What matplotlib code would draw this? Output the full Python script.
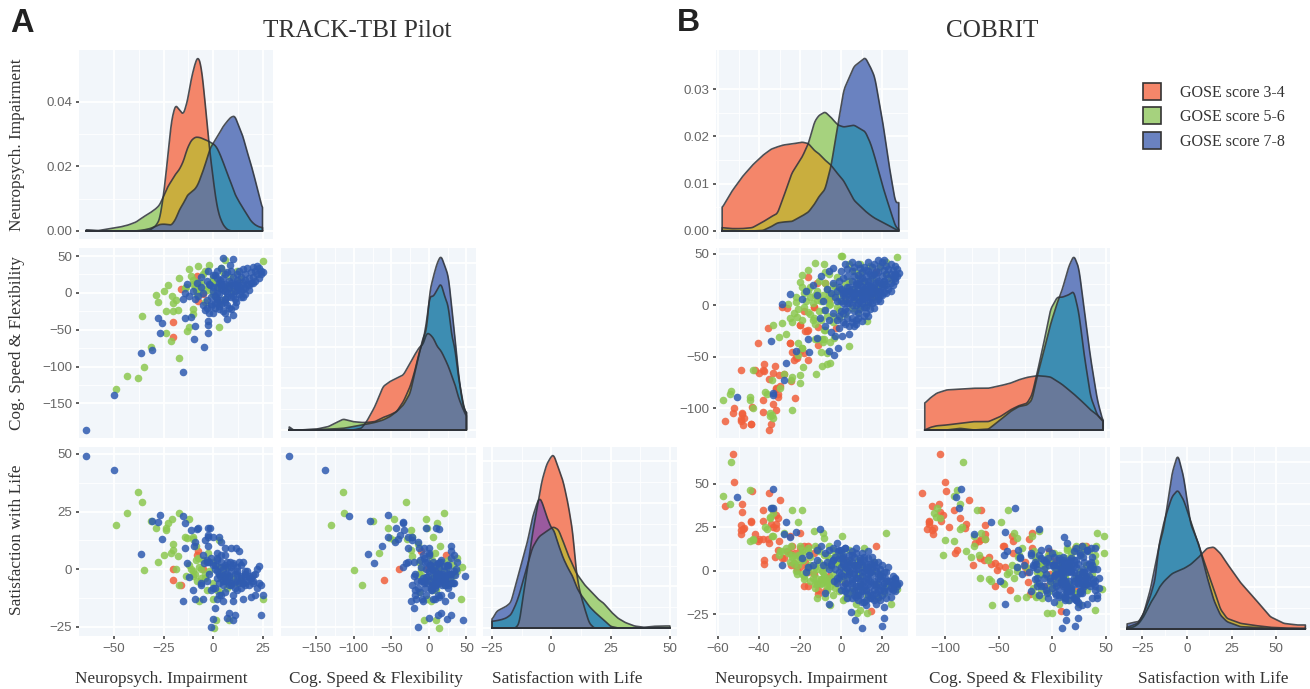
import numpy as np
import matplotlib
matplotlib.use('Agg')
import matplotlib.pyplot as plt

# ---- kolory i nazwy
GROUPS = ['GOSE score 3-4', 'GOSE score 5-6', 'GOSE score 7-8']
DOTS = ['#F0603C', '#8CC850', '#2F5BB0']
FILL_O, FILL_G, FILL_B = '#F4866A', '#A6D27E', '#6A82C0'
FILL_OG, FILL_OB, FILL_GB, FILL_ALL = '#C9AE3E', '#9A5A9E', '#3D8DB2', '#68799A'
BG = '#F2F6FA'
LABELS = ['Neuropsych. Impairment', 'Cog. Speed & Flexibility', 'Satisfaction with Life']

# ---- TRACK-TBI Pilot, punkty (neuropsych, cog, satisfaction)
a_orange = [(-20, -40, 0), (-20, -60, -4.5), (-16, 5, -7), (-7.5, -11, 8), (-5, -2, 0), (-8, 23, 6)]
a_green = [(-43.6, -113, 24.5), (-38, -115, 33.5), (-49, -130, 19), (-35.7, -31, 29), (-35, -100, -0.5),
           (-17, -89, -7), (-31.5, -74, 21), (-29, -3, 18), (-28, -13, 3.3), (-25, 2, 6), (-22.5, 11, 20),
           (-17, 20, 24.5), (-20.5, -4, 21.6), (-20, -14, 11), (-23.5, -24, 17), (-20, -24, 8.4),
           (-17.7, -23, 5.5), (-23.5, -55, 18), (-21, -66, 7), (-12, -47, 21.6), (-13, -52, 13.4),
           (-10, -22, 14), (-10, -29, 13), (3, -46, 12.7), (-12, 32, 2), (-7.5, 37, 5), (-2, 38, -1),
           (6, 44, 1), (25, 43, -13), (-11, 23, 0), (-5, 26, 4), (-10, 12, -1), (-13.5, 8, -3),
           (0, 17, 3), (5, 28, -5), (8.4, 21, -7), (13.5, 19, -4.6), (7, 8, -8), (1.7, -6, -22),
           (3.4, -13, -10), (-4, -13, -2), (-7, 3, -14), (-2.5, 8, 7), (0.3, 14, -25.5), (8, 10, -22),
           (-8.4, 15, 10), (-8.4, 4, 4), (-10, 18, -3), (-7, 12, 1), (-4, 30, -4), (0, 22, -6),
           (4, 34, -2), (-6, 6, -4), (12, 30, -6), (-14, 6, 14), (-18.5, -10, 0), (2, 10, -9), (6, -9, -3),
           (-9, 8, -2), (-8, -3, -5), (-6, 14, 0), (-3, 4, -9), (0, -2, -13), (3, 6, 1), (10, 2, -4)]
a_blue = [(-64, -186, 49), (-50, -139, 43), (-15, -107, 23), (-36.5, -81, 6.5), (-31, -78, 21),
          (-4.4, -73, 2.5), (-27, -55, 23.5), (-9.5, -62, 10), (-2.5, -55, 14), (-28, -34, 20.5),
          (-26, -41, 13), (-11, -33, 17), (-14, -34, 20), (-9, -45, 12), (-2.5, -38, 15), (-2.5, -44, 18),
          (-14, 0, 9), (-15, -8, -14), (-13, 12, 2.5), (-12, -4, -3.5), (-10, 3, -9), (-9, -9, -13),
          (-8, 14, 17.5), (-7.5, -4, 18), (-6, 22, -7), (-5, -17, -13), (-4, -23, 12.5), (-2.5, 30, 10),
          (-2, -28, 3), (-1.5, 10, 18), (-1, -15, -25), (0, 24, -21.5), (0, -28, 14), (1, -20, -17),
          (2, 8, -13), (2, 30, 5), (3, -22, 14), (3.5, 18, -3), (4, 34, 6), (4, -15, 12), (5, 48, -3),
          (5, 10, -7), (6, -28, 9), (6, 25, 2), (7, -35, 1), (7, 0, -21), (8, 16, -19), (8, -20, -3),
          (8.5, 38, 3), (9, 30, -6), (9, -6, 9), (10, -30, 2.5), (10, 46, -22), (10, 22, -14), (11, 12, -20),
          (11, 3, -8), (11.5, -13, 9), (12, 26, 1), (12, 18, -2), (13, 8, -6), (13, 30, 8), (14, -5, -8),
          (14, 22, -4), (15, 15, 3), (15, 5, -13), (15, 32, -6), (16, -1, -3), (16, 25, -2), (17, 12, -5),
          (17, 34, -1), (18, 20, -3), (18, 4, -7), (19, 28, -4), (19, 14, -12), (20, 35, -2.5), (20, 22, -5),
          (21, 16, -11), (21, 30, -2), (22, 36, 0), (22, 25, -8), (23, 34, -6), (23, 20, 1.5), (24, 30, -20),
          (24, 25, -7), (25, 29, -11), (3, 14, -2), (5, 20, -5), (7, 28, -2), (-3, 16, 4), (1, 24, 2),
          (4, 6, 3), (-6, 8, -6), (9, 14, 1), (12, 8, -1), (14, 2, 2), (16, 18, -7), (6, 2, -5), (2, 20, -1),
          (0, 2, 2), (1, -4, 0), (2, -8, -4), (3, -2, -6), (4, -10, 1), (5, 4, 0), (6, 12, -2), (7, -5, 3),
          (8, 6, -4), (9, 0, -1), (10, 10, 2), (11, -8, -5), (12, 4, -9), (13, -2, 3), (14, 10, -3), (15, -6, -6),
          (-1, -6, 5), (-3, -10, -5), (-5, 0, 6), (0, 8, -8), (2, 0, 7), (4, 12, -11), (6, -12, -10), (8, 8, -7),
          (10, -4, -11), (12, 14, -5), (16, 6, -1), (18, 10, -4), (20, 14, -6), (-2, 12, -2),
          (1, -14, -8), (3, -18, -11), (5, -24, -14), (7, -16, -5), (9, -22, -7), (2, -12, 4), (-1, -18, -9),
          (-3, -20, 3), (11, -18, -2), (6, -8, 6)]

# ---- COBRIT, punkty
b_orange = [(-52.8, -104.5, 66.7), (-52, -100, 50.8), (-35.4, -121, 44.6), (-43.4, -98.7, 45.6), (-48.4, -106, 38.5),
            (-56.6, -112.5, 37.3), (-48.4, -105, 33.8), (-38, -92, 35), (-30, -78, 40.4), (-33, -66, 35),
            (-31, -86, 30), (-44, -115, 28.5), (-38, -104, 28.5), (-47.7, -116.5, 24), (-47.5, -110, 24.4),
            (-49, -111, 21), (-49, -112, 23.5), (-32, -80, 27), (-31.6, -81, 24.4), (-40, -66, 18),
            (-38, -63, 18), (-35.4, -72, 15.8), (-20, -19, 21.5), (-25, -37, 19.6), (-24, -45, 14),
            (-18, -46, 14), (-28, -67, 7), (-23, -53, 4.6), (-21.5, -51, 0.4), (-16.7, -25, 2.3), (-16, -23.6, -0.6),
            (-16, -53, -9), (-11.5, -39, -11), (-11.5, -21, -13.5), (-11.8, 21.7, 13), (-13.4, -1.6, 10),
            (-2.4, -22.6, -6.3), (2, 8, -7.3), (14.4, 8, -23), (17, 32, 14), (-32.5, -59, 8), (-37.7, -57, 4),
            (-37.7, -64, 6), (-24.4, -74, 3), (-31, -89, 12), (-22.3, -90.6, 10), (-40.6, -36.6, 17),
            (-35.6, -21.7, 18), (-24.8, -36.6, 10), (-20, -19, 13), (-17.5, -25, 5), (-16, 27.5, 14),
            (-26.4, -3, 11), (-29, -2, 7), (-13.4, -1.6, -2), (2, 5, 5.8), (-48.7, -63, 26), (-42, -62.5, 21),
            (-30.4, -68, 17), (-33, -96, 25), (-32, -102, 32), (-34, -115, 27), (-44, -115, 28), (-22, -50, 2.7),
            (-20, -44, 2), (-12, 9, -7.7), (-8, 22, -12), (-6, 5, -3), (-18, -6, -9)]
b_green = [(-53.6, -83.4, 62.5), (-57.4, -91.6, 42.7), (-44.5, -89, 46.5), (-33.6, -107, 36), (-24, -70, 35),
           (-19, -41.6, 34.6), (-34.5, -105, 30), (-43, -100, 17.7), (-37, -84, 25), (-21, -48, 27.7),
           (-33.6, -73, 20), (-28, -66.5, 21.5), (-13.4, -12, 23), (-9, -36, 21.5), (-8.5, -33, 18.7),
           (0.3, 48, 20), (-30, -80, 11), (-12, -33, -16), (-8, -24, -15), (-5.3, -56, -20), (7.6, -4.7, -24.6),
           (12.5, 0, -24.6), (9, 40, -22.7), (-54, -85.8, 38), (-44.5, -91.6, 17), (-43, -63, 18), (-36, -86, 24),
           (-34.5, -108, 31), (-33, -110, 33), (-24, -102, 9), (-24.4, -73, 14), (-20, -76, 8), (-20, -68, 9),
           (-18.6, -60, 6), (-12.3, -67, -4), (-9.4, -59, -5), (-7, -57, -6), (-33, -19, 20), (-29, -17, 11),
           (-30.4, -31, 9), (-27, -28, 13), (-21, -37, 3), (-19, -42, -2), (-10, -45, -8), (-7, -46, -7),
           (3.6, -40, -1), (-12.6, -33, 2), (-9.4, -33, 0), (-5.3, -36, -4), (-3.7, -32, 8), (-8.6, -24, 2),
           (-26, 1.6, 10), (-22, 8, 6), (-19, 29, 12), (-12.6, 41, 14), (-8.6, 40, 9), (0, 48, 10), (-20, 22.7, 14),
           (-16, 34.6, 11), (-8, 32, 3), (3.6, 40, 5), (9, 31, -3), (-21.5, -11, -2), (-18, -1.6, -5), (-15, 8, -6),
           (-12, 5, 1), (-8.6, -5, -3), (-5.3, 1.6, -9), (-12, 14, -7), (-8, 22, -4), (-3, 18, -10), (9, -1.6, -8),
           (12.5, -15.5, -15), (7.6, 21, -14), (17, 14.6, -8), (20.6, 21, -13), (-25, -12, 5), (-22, 3, 0),
           (-18, 12, -3), (-16, -7, 2), (-14, -14, -1), (-10, 4, -5), (-6, 12, 7), (-4, -10, -2), (-1, 5, 3),
           (2, 22, -3), (4, 14, 12), (6, 33, -11), (11, 24, 13), (14, 38, 2), (19, 37, -2), (24, 25, -19),
           (22, 42, 21.5), (27, 47, -10.6), (-2, 27, 9), (1, 15, -17), (-6, 30, 14), (-15, 18, 8), (-1, -5, -12),
           (7, 6, -19), (16, 8, 5), (10, 13, 2),
           (-24, -16, 8), (-23, -8, 4), (-21, -4, 9), (-19, -14, 6), (-17, 4, -1), (-15, -9, 3), (-14, 2, -4),
           (-13, 10, -8), (-11, -6, 5), (-9, 10, -1), (-7, 16, -9), (-6, 0, -6), (-5, 8, 2), (-3, 11, -7),
           (-2, -2, 5), (0, 12, -5), (2, 4, 1), (4, 24, -13), (6, 16, 3), (8, 28, -2), (12, 14, -12), (15, 26, 0),
           (18, 20, -16), (22, 30, -9), (-19, 18, 10), (-16, 14, 13), (-11, 24, 11), (-7, 6, 9), (-4, 20, 12), (3, 10, -15),
           (-13, -18, -10), (-10, -14, -7), (-7, -10, -11), (-4, -16, -14), (-1, -12, 4), (2, -9, -16), (5, -3, -12), (8, -6, 6)]
b_blue = [(-51, -89.6, 42), (-33, -85, 47), (-34, -35, 36), (-26.7, -56.6, 27.7), (-29, 1, 3), (-33, -87, 36),
          (-27.7, -73, 21), (-22, -44, 22), (-10.5, -12.5, 23.8), (10, 9, -33), (20, 21, -32), (20.6, 24, -27.5),
          (6.5, 13, -28.5), (4.7, 13, -23.6), (-6, -44, -19), (-8, -5, -12.7), (-16, -33, 2), (-15.5, -45, 9),
          (-3.7, -48.5, -6), (-1.6, -42, 11), (-24.8, 11, 19), (-12, 10, 6), (-8, -20, 10), (-5, -26, 3),
          (-3, -30, 8), (-2, 14, 16), (-1, -10, 12), (0, 33, 12), (0.5, -30, 7), (1, 10, -3), (1, 26, 9),
          (2, -4, 13), (2, -18, 2), (3, 18, -10), (3, 35, 1), (4, -28, -2), (4, 6, 6), (5, -12, 9), (5, 24, -7),
          (6, 37, 3), (6, -20, -12), (7, 12, -15), (7, 0, 10), (8, 29, 1), (8, -8, -4), (8, 40, -9), (9, 20, 6),
          (9, 4, -14), (10, 32, -3), (10, -15, 4), (10, 13, -8), (11, 24, -18), (11, 37, 8), (11, -2, -6),
          (12, 8, 2), (12, 28, -20), (12, 18, -11), (13, 42, 1), (13, -10, 7), (13, 33, -5), (14, 3, -13),
          (14, 24, 4), (14, 14, -9), (15, 37, -16), (15, 8, -2), (15, 29, 8), (16, 20, -6), (16, 40, -11),
          (16, -3, 3), (17, 33, -19), (17, 15, 0), (17, 26, -13), (18, 44, -4), (18, 9, 5), (18, 32, -8),
          (19, 22, -17), (19, 38, 1), (19, 14, -11), (20, 28, -3), (20, 42, -14), (20, 18, 3), (21, 34, -7),
          (21, 24, -21), (21, 44, -10), (22, 30, -1), (22, 20, -16), (22, 38, -5), (23, 26, -12), (23, 35, 2),
          (24, 30, -9), (24, 40, -6), (24, 22, -15), (25, 34, -3), (25, 28, -11), (26, 38, -7), (26, 30, -5),
          (27, 35, -9), (27, 28, -8), (28, 31, -7), (-10, 28, 14), (-6, 33, 12), (-4, 22, 6), (-2, 4, -7),
          (-7, 16, 5), (-9, 4, 3), (-14, 20, 3), (-17, 14, -1), (-19, 6, 7), (2, 40, 13), (5, 33, 11), (7, 22, 13),
          (10, 26, 10), (13, 20, 11), (16, 30, 5), (0, 16, 2), (1, -8, -9), (3, 28, -13), (5, 8, -6), (7, -14, -9),
          (9, 36, 5), (11, 10, 0), (13, 3, -2), (15, 18, -14), (17, 4, -9), (19, 10, -5), (21, 13, -12),
          (4, 14, 3), (6, 28, -1), (8, 16, -11), (12, 34, 4), (14, 30, -1), (18, 24, -2), (23, 16, -6), (-1, 24, -4),
          (3, 2, -3), (5, 42, -16), (10, 2, -18), (-4, 36, 13), (26, 24, -4), (-12, -32, 12),
          (0, 4, -2), (1, 12, 4), (2, 8, -7), (3, -6, 5), (4, 18, 0), (5, 0, -10), (6, 10, 8), (7, 20, -4),
          (8, 2, 3), (9, 12, -9), (10, 6, -1), (11, 16, 6), (12, -2, -4), (13, 12, -14), (14, 18, -1), (15, 2, 4),
          (16, 12, -8), (17, 22, 2), (18, 14, -12), (19, 4, -3), (20, 10, -9), (21, 20, -1), (22, 12, -6),
          (6, 6, -14), (8, 22, -17), (10, 18, -12), (12, 12, -17), (14, 8, -6), (16, 16, -17), (18, 6, -15),
          (2, 14, -12), (4, 2, 2), (5, 16, 5), (7, 8, 1), (9, 26, -6), (11, 6, -11), (13, 24, -8), (15, 12, 2),
          (-3, 8, 1), (-1, 18, 7), (-5, 12, 4), (1, 2, 8), (3, 12, -16), (24, 14, -10), (25, 20, -8), (26, 26, -12),
          (-2, -14, -4), (0, -6, -11), (1, -16, 5), (3, -12, -7), (4, -20, 9), (6, -6, -2), (7, -18, 3), (8, -12, -14),
          (9, -4, 7), (11, -10, -9), (12, -8, 1), (14, -4, -16), (-4, -8, 6), (-6, -14, 1), (-1, -22, -1), (5, -16, -5)]

# ---- gestosci TRACK-TBI
a_ni_x = [-64, -58, -52, -47, -43, -39, -35, -32, -29, -27, -25, -23, -21, -19, -17, -15, -13, -11, -9, -7.5, -6,
          -4.5, -3, -1.5, 0, 1.5, 3, 5, 7, 9, 11, 13, 15, 17, 19, 21, 23, 25]
a_ni_o = [0, 0, 0, 0, 0, 0, 0, .0002, .0015, .0035, .011, .022, .034, .039, .0375, .036, .040, .047, .052, .054, .051,
          .043, .033, .024, .0165, .0095, .005, .002, .0005, 0, 0, 0, 0, 0, 0, 0, 0, 0]
a_ni_g = [.0002, .0001, .0007, .0012, .0018, .0027, .0044, .0055, .0068, .008, .0107, .0135, .0155, .0175, .019, .0215,
          .0255, .028, .029, .029, .0288, .0283, .028, .0275, .027, .0262, .0245, .0215, .018, .015, .0115, .0092,
          .0072, .0052, .0032, .002, .0013, .001]
a_ni_b = [.0003, 0, 0, 0, 0, 0, .0003, .0007, .0014, .002, .0021, .002, .0018, .0035, .0065, .0085, .011, .012, .013,
          .0145, .017, .0195, .0225, .0255, .027, .0285, .03, .0322, .0338, .0352, .0356, .0325, .0295, .025, .021,
          .0165, .0115, .0068]

a_cs_x = [-186, -181, -172, -150, -134, -123, -114, -101, -90, -83, -72, -61, -52, -43, -34, -25, -19, -12, -8, -3, 1,
          6, 11, 16, 21, 26, 30, 35, 39, 44, 47, 50]
a_cs_o = [0, 0, 0, 0, 0, 0, 0, 0, .0002, .001, .0028, .0052, .0058, .0062, .0066, .008, .009, .01, .0102, .0116, .0115,
          .011, .01, .0095, .0086, .0076, .0066, .0054, .004, .0028, .0022, .0016]
a_cs_g = [0, 0, 0, .0001, .0004, .0009, .0013, .001, .0009, .0009, .001, .0015, .0018, .0022, .0034, .0052, .007, .0096,
          .0105, .013, .016, .016, .0168, .0176, .016, .0148, .0115, .0096, .0065, .004, .0025, .002]
a_cs_b = [.0004, 0, 0, .00005, .0001, .00015, .0002, .0004, .0006, .0007, .0009, .0012, .0016, .0022, .003, .0044, .0068,
          .0095, .011, .012, .0165, .0184, .02, .0209, .0197, .0184, .015, .0108, .007, .0036, .0025, .002]

a_sl_x = [-25, -23, -21, -19, -17, -15, -13.5, -12, -10, -8, -6, -5, -4, -2, 0, 1, 3, 5, 7, 9, 10.5, 12, 14, 16, 18, 20,
          22, 25, 28, 31, 35, 39, 43, 47, 50]
a_sl_o = [0, 0, 0, 0, 0, 0, .0015, .009, .018, .028, .036, .04, .044, .049, .0515, .052, .048, .044, .0375, .029, .017,
          .011, .006, .0015, 0, 0, 0, 0, 0, 0, 0, 0, 0, 0, 0]
a_sl_g = [.002, .0022, .0025, .003, .004, .007, .01, .014, .019, .024, .0265, .0275, .028, .029, .03, .0303, .0295, .026,
          .022, .019, .0165, .015, .013, .0115, .01, .0085, .0075, .005, .003, .0017, .0006, .0002, .0005, .0006, .0006]
a_sl_b = [.0025, .005, .0058, .0065, .0077, .013, .017, .021, .026, .033, .0375, .039, .038, .0335, .03, .0295, .025, .021,
          .018, .0155, .0125, .0105, .0085, .0065, .005, .0037, .0025, .0005, 0, 0, 0, 0, 0, 0, 0]

# ---- gestosci COBRIT
b_ni_x = [-58, -53.4, -48.3, -43.3, -38.2, -34.2, -31.1, -28.1, -24.1, -19, -16, -13, -11, -7.9, -4.9, -2.9, -1.5, 1.2,
          6.2, 11.7, 14.3, 16.3, 20.3, 23.4, 26.4, 28]
b_ni_o = [.0049, .0083, .0114, .0139, .016, .0173, .0178, .0182, .0184, .0188, .0185, .017, .0164, .015, .0139, .0127,
          .012, .0106, .0065, .0042, .0033, .0027, .0018, .0011, .00035, .0001]
b_ni_g = [.0007, .0005, .0005, .0007, .0019, .003, .0037, .0072, .0122, .0157, .0185, .0231, .0244, .0252, .024, .023,
          .0224, .022, .0224, .021, .0185, .0157, .0093, .005, .001, .0003]
b_ni_b = [.0001, .0001, 0, 0, .0001, .0009, .0017, .0019, .002, .0032, .004, .0057, .0072, .0088, .0139, .0192, .0228,
          .0298, .0348, .0367, .0346, .0326, .0228, .0136, .006, .006]

b_cs_x = [-118.8, -114, -107.8, -98.4, -85.9, -73.4, -59.4, -48.4, -39, -31.3, -23.4, -18.8, -14, -7.8, -1.6, 4.7, 9.4,
          15.6, 20.3, 25, 29.7, 35.9, 42.2, 47.5]
b_cs_o = [.0032, .0038, .0044, .0048, .0049, .005, .005, .0053, .0056, .006, .0063, .0064, .0065, .00645, .00635, .00585,
          .00545, .0048, .0043, .00375, .0032, .0024, .0018, .0011]
b_cs_g = [0, .0003, .0005, .0006, .0008, .001, .001, .0016, .0024, .0029, .0032, .0042, .0068, .0104, .0144, .0159, .0159,
          .0162, .0166, .014, .0092, .004, .0018, .001]
b_cs_b = [0, 0, 0, 0, .0002, 0, .0001, .0012, .0022, .0028, .003, .0036, .0064, .0094, .0126, .0152, .0168, .0196, .0209,
          .0194, .0146, .0086, .0036, .001]

b_sl_x = [-33.6, -29.9, -27.1, -24.3, -20.6, -17.8, -15.9, -13.1, -11.2, -8.4, -5.2, -1.9, 1.9, 6.5, 11.2, 15, 18.7, 22.4,
          29.9, 37.4, 46.7, 54.2, 61.7, 66.4]
b_sl_o = [.0002, .0006, .0016, .0037, .0077, .01, .0122, .0142, .0152, .0166, .0174, .0181, .0193, .0215, .0242, .0246,
          .0227, .0197, .014, .0095, .0037, .0017, .0012, .0012]
b_sl_g = [.0005, .0012, .0019, .0047, .0097, .015, .0247, .0317, .0352, .0397, .0417, .0387, .0327, .0252, .0177, .012,
          .006, .0032, .0017, .0011, .0005, .0003, .0002, .0002]
b_sl_b = [.0015, .002, .0022, .0047, .0117, .0192, .0245, .03, .0367, .0467, .0524, .0457, .0317, .0257, .0157, .0087,
          .0042, .0022, .0007, .0005, .0002, .0001, .0001, .0001]

W, H = 1310, 689
fig = plt.figure(figsize=(W / 100, H / 100), dpi=100, facecolor='white')


def make_axes(x0, x1, y0, y1):
    ax = fig.add_axes([x0 / W, 1 - y1 / H, (x1 - x0) / W, (y1 - y0) / H], facecolor=BG)
    for s in ax.spines.values():
        s.set_visible(False)
    ax.set_axisbelow(True)
    ax.grid(True, which='major', color='white', lw=1.3)
    ax.grid(True, which='minor', color='white', lw=0.6)
    ax.tick_params(which='minor', length=0)
    ax.tick_params(which='major', length=2.5, width=1.1, color='#333333', labelcolor='#666666',
                   labelsize=9.6, pad=2.5)
    return ax


def set_ticks(ax, xt, yt, xlab, ylab):
    ax.set_xticks(xt)
    ax.set_yticks(yt)
    ax.set_xticks([(p + q) / 2 for p, q in zip(xt[:-1], xt[1:])], minor=True)
    ax.set_yticks([(p + q) / 2 for p, q in zip(yt[:-1], yt[1:])], minor=True)
    ax.tick_params(axis='x', which='major', bottom=xlab, labelbottom=xlab)
    ax.tick_params(axis='y', which='major', left=ylab, labelleft=ylab)
    for t in ax.get_xticklabels() + ax.get_yticklabels():
        t.set_family('Liberation Sans')


def smooth(x, y):
    # tylko do rysowania: gesta siatka i male okno, zeby krzywa nie byla kanciasta
    fine = np.linspace(x[0], x[-1], 700)
    v = np.interp(fine, x, y)
    k = 13
    pad = np.pad(v, k // 2, mode='edge')
    return fine, np.convolve(pad, np.ones(k) / k, mode='valid')


def density(ax, x, o, g, b):
    # kolor pola zalezy od tego, ktore krzywe sie pokrywaja
    x, o, g, b = map(np.array, (x, o, g, b))
    fine, o2 = smooth(x, o)
    g2 = smooth(x, g)[1]
    b2 = smooth(x, b)[1]
    ax.fill_between(fine, 0, o2, color=FILL_O, lw=0)
    ax.fill_between(fine, 0, g2, color=FILL_G, lw=0)
    ax.fill_between(fine, 0, b2, color=FILL_B, lw=0)
    ax.fill_between(fine, 0, np.minimum(o2, g2), color=FILL_OG, lw=0)
    ax.fill_between(fine, 0, np.minimum(o2, b2), color=FILL_OB, lw=0)
    ax.fill_between(fine, 0, np.minimum(g2, b2), color=FILL_GB, lw=0)
    ax.fill_between(fine, 0, np.minimum(np.minimum(o2, g2), b2), color=FILL_ALL, lw=0)
    for c in (o2, g2, b2):
        ax.plot(np.r_[fine[0], fine, fine[-1], fine[0]], np.r_[0, c, 0, 0], color='#2E3238', lw=1.2,
                solid_joinstyle='round', alpha=0.85)


def scatter(ax, groups, i, j):
    for pts, col in zip(groups, DOTS):
        arr = np.array(pts)
        ax.scatter(arr[:, i], arr[:, j], s=30, color=col, alpha=0.85, lw=0, zorder=3)


def panel_set(cols, xlim, ylim, xt, yt, dens, dlim, dyt, groups, xlabel_px):
    for r in range(3):
        for c in range(r + 1):
            ax = make_axes(cols[c][0], cols[c][1], ROWS[r][0], ROWS[r][1])
            if r == c:
                density(ax, *dens[r])
                ax.set_ylim(*dlim[r])
                ticks_y = dyt[r]
                ylab = r == 0
            else:
                scatter(ax, groups, c, r)
                ax.set_ylim(*ylim[r])
                ticks_y = yt[r]
                ylab = c == 0
            ax.set_xlim(*xlim[c])
            set_ticks(ax, xt[c], ticks_y, r == 2, ylab)
            if r == 0:
                ax.set_yticklabels(['%.2f' % v for v in ticks_y], family='Liberation Sans')
    for lab, px in zip(LABELS, xlabel_px):
        fig.text(px / W, 1 - 679 / H, lab, family='Liberation Serif', fontsize=12.4, color='#333333',
                 ha='center', va='center')


ROWS = [(50, 239), (248, 438), (447, 636)]

panel_set([(79, 273), (281, 476), (483, 677)],
          [(-67.7, 30.3), (-197, 62.7), (-28.8, 53)],
          [None, (-197, 60.9), (-29, 53)],
          [[-50, -25, 0, 25], [-150, -100, -50, 0, 50], [-25, 0, 25, 50]],
          [None, [-150, -100, -50, 0, 50], [-25, 0, 25, 50]],
          [(a_ni_x, a_ni_o, a_ni_g, a_ni_b), (a_cs_x, a_cs_o, a_cs_g, a_cs_b), (a_sl_x, a_sl_o, a_sl_g, a_sl_b)],
          [(-0.0025, 0.056), (-0.00096, 0.0218), (-0.0024, 0.0543)],
          [[0, .02, .04], [0, .005, .01, .015, .02], [0, .0125, .025, .0375, .05]],
          (a_orange, a_green, a_blue), [161, 376, 567])

panel_set([(716, 908), (916, 1110), (1120, 1310)],
          [(-61, 32.5), (-127, 54), (-37.6, 69)],
          [None, (-129, 55.6), (-37.6, 71)],
          [[-60, -40, -20, 0, 20], [-100, -50, 0, 50], [-25, 0, 25, 50]],
          [None, [-100, -50, 0, 50], [-25, 0, 25, 50]],
          [(b_ni_x, b_ni_o, b_ni_g, b_ni_b), (b_cs_x, b_cs_o, b_cs_g, b_cs_b), (b_sl_x, b_sl_o, b_sl_g, b_sl_b)],
          [(-0.0017, 0.0383), (-0.00096, 0.0218), (-0.0021, 0.0546)],
          [[0, .01, .02, .03], [0, .005, .01, .015, .02], [0, .0125, .025, .0375, .05]],
          (b_orange, b_green, b_blue), [801, 1016, 1213])

# ---- opisy osi y
for lab, py in zip(LABELS, [145, 343, 540]):
    fig.text(17 / W, 1 - py / H, lab, family='Liberation Serif', fontsize=12.4, color='#333333',
             rotation=90, ha='center', va='center')

# ---- tytuly, litery
fig.text(357 / W, 1 - 31 / H, 'TRACK-TBI Pilot', family='Liberation Serif', fontsize=18.2, color='#333333',
         ha='center', va='center')
fig.text(992 / W, 1 - 31 / H, 'COBRIT', family='Liberation Serif', fontsize=18.2, color='#333333',
         ha='center', va='center')
fig.text(22 / W, 1 - 23 / H, 'A', family='Liberation Sans', fontsize=23.5, fontweight='bold', color='#222222',
         ha='center', va='center')
fig.text(688 / W, 1 - 23 / H, 'B', family='Liberation Sans', fontsize=23, fontweight='bold', color='#222222',
         ha='center', va='center')

# ---- legenda
handles = [plt.Rectangle((0, 0), 1, 1, facecolor=f, edgecolor='#333333', lw=1.2) for f in (FILL_O, FILL_G, FILL_B)]
fig.legend(handles, GROUPS, loc='upper left', bbox_to_anchor=(1141 / W, 1 - 81 / H), frameon=False,
           prop={'family': 'Liberation Serif', 'size': 11.5}, labelcolor='#333333', handlelength=1.13,
           handleheight=1.28, labelspacing=0.42, handletextpad=1.2, borderpad=0.1, borderaxespad=0)

fig.savefig('out.png', dpi=100)
